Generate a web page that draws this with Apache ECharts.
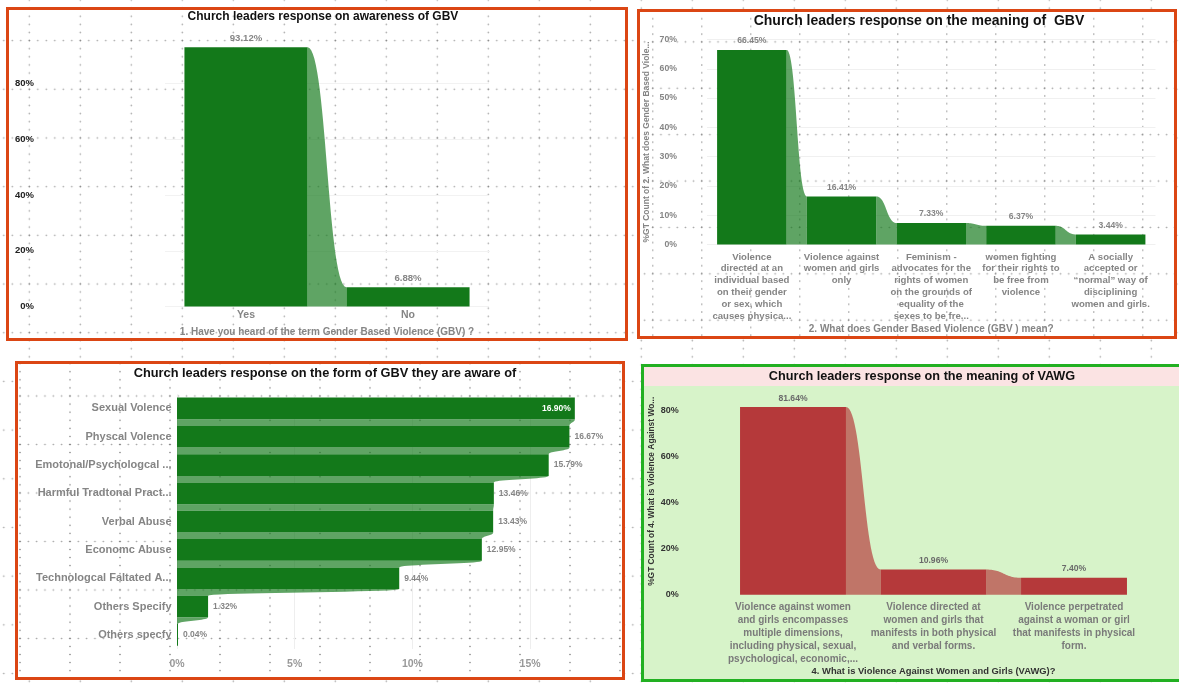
<!DOCTYPE html>
<html>
<head>
<meta charset="utf-8">
<script src="https://cdn.jsdelivr.net/npm/echarts@6/dist/echarts.min.js"></script>
<style>
html,body{margin:0;padding:0;width:1179px;height:684px;overflow:hidden;background:#fff;}
#bg{position:absolute;left:0;top:0;width:1179px;height:684px;
  background-image:
    radial-gradient(circle at center, rgba(90,90,90,0.55) 0.6px, rgba(90,90,90,0) 1.1px),
    radial-gradient(circle at center, rgba(90,90,90,0.55) 0.6px, rgba(90,90,90,0) 1.1px);
  background-size:8.5px 48.7px, 51px 8.12px;
  background-position:25.05px 16.25px, 3.8px 36.54px;}
.panel{position:absolute;box-sizing:border-box;background-origin:border-box;}
#p1{left:6px;top:7px;width:622px;height:334px;border:3px solid #db4614;}
#p2{left:637px;top:9px;width:540px;height:330px;border:3px solid #db4614;background-color:#fff;
  background-image:
    radial-gradient(circle at center, rgba(90,90,90,0.55) 0.6px, rgba(90,90,90,0) 1.1px),
    radial-gradient(circle at center, rgba(90,90,90,0.55) 0.6px, rgba(90,90,90,0) 1.1px);
  background-size:8.17px 46.4px, 49px 7.73px;
  background-position:11.72px 9.7px, -8.7px 29.03px;}
#p3{left:15px;top:361px;width:610px;height:319px;border:3px solid #db4614;background-color:#fff;
  background-image:
    radial-gradient(circle at center, rgba(90,90,90,0.55) 0.6px, rgba(90,90,90,0) 1.1px),
    radial-gradient(circle at center, rgba(90,90,90,0.55) 0.6px, rgba(90,90,90,0) 1.1px);
  background-size:8.33px 48.5px, 50px 8.08px;
  background-position:0.83px 10.75px, -20px 30.96px;}
#p4{left:641px;top:364px;width:545px;height:318px;border:3px solid #22b022;background:#d7f3c9;}
#p4bar{position:absolute;left:0;top:0;right:0;height:19px;background:#fbe3e3;}
#chart{position:absolute;left:0;top:0;width:1179px;height:684px;z-index:5;}
</style>
</head>
<body>
<div id="bg"></div>
<div class="panel" id="p1"></div>
<div class="panel" id="p2"></div>
<div class="panel" id="p3"></div>
<div class="panel" id="p4"><div id="p4bar"></div></div>
<div id="chart"></div>
<script>
// ---------- DATA ----------
const q1Categories = ['Yes', 'No'];
const q1Values = [93.12, 6.88];

const q2Categories = [
  'Violence\ndirected at an\nindividual based\non their gender\nor sex, which\ncauses physica...',
  'Violence against\nwomen and girls\nonly',
  'Feminism -\nadvocates for the\nrights of women\non the grounds of\nequality of the\nsexes to be fre...',
  'women fighting\nfor their rights to\nbe free from\nviolence',
  'A socially\naccepted or\n\u201cnormal\u201d way of\ndisciplining\nwomen and girls.'
];
const q2Values = [66.45, 16.41, 7.33, 6.37, 3.44];

const q3Categories = [
  'Sexual Volence', 'Physcal Volence', 'Emotonal/Psychologcal ...', 'Harmful Tradtonal Pract...',
  'Verbal Abuse', 'Economc Abuse', 'Technologcal Faltated A...', 'Others Specify', 'Others specfy'
];
const q3Values = [16.90, 16.67, 15.79, 13.46, 13.43, 12.95, 9.44, 1.32, 0.04];

const q4Categories = [
  'Violence against women\nand girls encompasses\nmultiple dimensions,\nincluding physical, sexual,\npsychological, economic,...',
  'Violence directed at\nwomen and girls that\nmanifests in both physical\nand verbal forms.',
  'Violence perpetrated\nagainst a woman or girl\nthat manifests in physical\nform.'
];
const q4Values = [81.64, 10.96, 7.40];

const titles = [
  'Church leaders response on awareness of GBV',
  'Church leaders response on the meaning of  GBV',
  'Church leaders response on the form of GBV they are aware of',
  'Church leaders response on the meaning of VAWG'
];
const xAxisTitles = [
  '1. Have you heard of the term Gender Based Violence (GBV) ?',
  '2. What does Gender Based Violence (GBV ) mean?',
  '',
  '4. What is Violence Against Women and Girls (VAWG)?'
];
const yAxisTitles = [
  '',
  '%GT Count of 2. What does Gender Based Viole...',
  '',
  '%GT Count of 4. What is Violence Against Wo...'
];

// ---------- STYLE ----------
const FONT = '"Liberation Sans", Arial, Helvetica, sans-serif';
const GREEN = '#13791a';
const RED = '#b5393a';
const GREY = '#858585';

function vData(values) {
  return values.map((v, i) => [i, v, i < values.length - 1 ? values[i + 1] : NaN]);
}
function hData(values) {
  return values.map((v, i) => [v, i, i < values.length - 1 ? values[i + 1] : NaN]);
}
function bez(p0, p1, p2, p3, t) {
  const m = 1 - t;
  return m * m * m * p0 + 3 * m * m * t * p1 + 3 * m * t * t * p2 + t * t * t * p3;
}

function makeVRibbon(barRatio, color, labelColor, labelFont, labelGap) {
  return function (params, api) {
    const i = api.value(0), v = api.value(1), vn = api.value(2);
    const band = api.size([1, 0])[0];
    const bw = band * barRatio;
    const top = api.coord([i, v]);
    const base = api.coord([i, 0]);
    const children = [];
    if (!isNaN(vn)) {
      const nt = api.coord([i + 1, vn]);
      const x0 = top[0] + bw / 2, x1 = nt[0] - bw / 2, y0 = top[1], y1 = nt[1];
      const xm = (x0 + x1) / 2;
      const pts = [];
      for (let k = 0; k <= 30; k++) {
        const t = k / 30;
        pts.push([bez(x0, xm, xm, x1, t), bez(y0, y0, y1, y1, t)]);
      }
      pts.push([x1, base[1]]);
      pts.push([x0, base[1]]);
      children.push({ type: 'polygon', shape: { points: pts }, style: { fill: color, opacity: 0.68 } });
    }
    children.push({ type: 'rect', shape: { x: top[0] - bw / 2, y: top[1], width: bw, height: base[1] - top[1] }, style: { fill: color } });
    children.push({ type: 'text', style: { text: v.toFixed(2) + '%', x: top[0], y: top[1] - labelGap, fill: labelColor, font: labelFont, align: 'center', verticalAlign: 'bottom' } });
    return { type: 'group', children: children };
  };
}

function makeHRibbon(barRatio, color, maxV) {
  return function (params, api) {
    const v = api.value(0), i = api.value(1), vn = api.value(2);
    const band = api.size([0, 1])[1];
    const bh = band * barRatio;
    const end = api.coord([v, i]);
    const base = api.coord([0, i]);
    const children = [];
    if (!isNaN(vn)) {
      const ne = api.coord([vn, i + 1]);
      const yT = end[1] + bh / 2, yB = ne[1] - bh / 2;
      const ym = (yT + yB) / 2;
      const pts = [[base[0], yT]];
      for (let k = 0; k <= 20; k++) {
        const t = k / 20;
        pts.push([bez(end[0], end[0], ne[0], ne[0], t), bez(yT, ym, ym, yB, t)]);
      }
      pts.push([base[0], yB]);
      children.push({ type: 'polygon', shape: { points: pts }, style: { fill: color, opacity: 0.68 } });
    }
    children.push({ type: 'rect', shape: { x: base[0], y: end[1] - bh / 2, width: Math.max(end[0] - base[0], 1), height: bh }, style: { fill: color } });
    const inside = v === maxV;
    children.push({ type: 'text', style: {
      text: v.toFixed(2) + '%',
      x: inside ? end[0] - 4 : end[0] + 5, y: end[1],
      fill: inside ? '#ffffff' : GREY,
      font: 'bold 8.5px ' + FONT,
      align: inside ? 'right' : 'left', verticalAlign: 'middle' } });
    return { type: 'group', children: children };
  };
}

const pctFmt = v => v + '%';

const option = {
  animation: false,
  backgroundColor: 'transparent',
  title: [
    { text: titles[0], left: 323, top: 11, textAlign: 'center', padding: 0, textStyle: { fontSize: 12, fontWeight: 'bold', color: '#111', fontFamily: FONT } },
    { text: titles[1], left: 919, top: 14, textAlign: 'center', padding: 0, textStyle: { fontSize: 14, fontWeight: 'bold', color: '#111', fontFamily: FONT } },
    { text: titles[2], left: 325, top: 367, textAlign: 'center', padding: 0, textStyle: { fontSize: 12.8, fontWeight: 'bold', color: '#111', fontFamily: FONT } },
    { text: titles[3], left: 922, top: 369.5, textAlign: 'center', padding: 0, textStyle: { fontSize: 12.7, fontWeight: 'bold', color: '#111', fontFamily: FONT } }
  ],
  grid: [
    { left: 165, top: 28, width: 324, height: 278.5 },
    { left: 707, top: 39.5, width: 448.5, height: 205 },
    { left: 177, top: 394.3, width: 435.5, height: 254.7 },
    { left: 722.75, top: 387.8, width: 421.5, height: 207 }
  ],
  xAxis: [
    { gridIndex: 0, type: 'category', data: q1Categories,
      axisLine: { show: false }, axisTick: { show: false },
      axisLabel: { margin: 3, fontSize: 10.5, fontWeight: 'bold', color: GREY, fontFamily: FONT },
      name: xAxisTitles[0], nameLocation: 'middle', nameGap: 20.5,
      nameTextStyle: { fontSize: 10, fontWeight: 'bold', color: GREY, fontFamily: FONT } },
    { gridIndex: 1, type: 'category', data: q2Categories,
      axisLine: { show: false }, axisTick: { show: false },
      axisLabel: { interval: 0, margin: 6.6, fontSize: 9.6, lineHeight: 11.8, fontWeight: 'bold', color: GREY, fontFamily: FONT, align: 'center' },
      name: xAxisTitles[1], nameLocation: 'middle', nameGap: 79.5,
      nameTextStyle: { fontSize: 10, fontWeight: 'bold', color: GREY, fontFamily: FONT } },
    { gridIndex: 2, type: 'value', min: 0, max: 18.5, interval: 5,
      axisLine: { show: false }, axisTick: { show: false },
      splitLine: { show: true, showMaxLine: false, lineStyle: { color: '#eeeeee' } },
      axisLabel: { showMaxLabel: false, margin: 10, fontSize: 10.5, fontWeight: 'bold', color: '#999', fontFamily: FONT,
        formatter: v => (v % 5 === 0 ? v + '%' : '') } },
    { gridIndex: 3, type: 'category', data: q4Categories,
      axisLine: { show: false }, axisTick: { show: false },
      axisLabel: { interval: 0, margin: 5.6, fontSize: 10, lineHeight: 13, fontWeight: 'bold', color: '#7a7a7a', fontFamily: FONT, align: 'center' },
      name: xAxisTitles[3], nameLocation: 'middle', nameGap: 71.7,
      nameTextStyle: { fontSize: 9.4, fontWeight: 'bold', color: '#333', fontFamily: FONT } }
  ],
  yAxis: [
    { gridIndex: 0, type: 'value', min: 0, max: 100, interval: 20,
      axisLine: { show: false }, axisTick: { show: false },
      splitLine: { show: true, showMaxLine: false, lineStyle: { color: '#f2f2f2' } },
      axisLabel: { showMaxLabel: false, margin: 131, fontSize: 9.5, fontWeight: 'bold', color: '#222', fontFamily: FONT, formatter: pctFmt } },
    { gridIndex: 1, type: 'value', min: 0, max: 70, interval: 10,
      axisLine: { show: false }, axisTick: { show: false },
      splitLine: { show: true, lineStyle: { color: '#f0f0f0' } },
      axisLabel: { margin: 30, fontSize: 8.7, fontWeight: 'bold', color: GREY, fontFamily: FONT, formatter: pctFmt },
      name: yAxisTitles[1], nameLocation: 'middle', nameGap: 55.7, nameRotate: 90,
      nameTextStyle: { fontSize: 8.5, fontWeight: 'bold', color: GREY, fontFamily: FONT } },
    { gridIndex: 2, type: 'category', data: q3Categories, inverse: true,
      axisLine: { show: false }, axisTick: { show: false },
      axisLabel: { interval: 0, margin: 5.5, fontSize: 11, fontWeight: 'bold', color: GREY, fontFamily: FONT } },
    { gridIndex: 3, type: 'value', min: 0, max: 90, interval: 20,
      axisLine: { show: false }, axisTick: { show: false },
      splitLine: { show: false },
      axisLabel: { showMaxLabel: false, margin: 44, fontSize: 9, fontWeight: 'bold', color: '#333', fontFamily: FONT,
        formatter: v => (v % 20 === 0 ? v + '%' : '') },
      name: yAxisTitles[3], nameLocation: 'middle', nameGap: 67, nameRotate: 90,
      nameTextStyle: { fontSize: 8.4, fontWeight: 'bold', color: '#333', fontFamily: FONT } }
  ],
  series: [
    { type: 'custom', xAxisIndex: 0, yAxisIndex: 0, data: vData(q1Values), encode: { x: 0, y: 1 },
      renderItem: makeVRibbon(0.76, GREEN, GREY, 'bold 9.6px ' + FONT, 3.5), clip: false },
    { type: 'custom', xAxisIndex: 1, yAxisIndex: 1, data: vData(q2Values), encode: { x: 0, y: 1 },
      renderItem: makeVRibbon(0.775, GREEN, GREY, 'bold 8.6px ' + FONT, 4.5), clip: false },
    { type: 'custom', xAxisIndex: 2, yAxisIndex: 2, data: hData(q3Values), encode: { x: 0, y: 1 },
      renderItem: makeHRibbon(0.767, GREEN, Math.max.apply(null, q3Values)), clip: false },
    { type: 'custom', xAxisIndex: 3, yAxisIndex: 3, data: vData(q4Values), encode: { x: 0, y: 1 },
      renderItem: makeVRibbon(0.754, RED, '#6a6a6a', 'bold 8.6px ' + FONT, 4.4), clip: false }
  ]
};

const chart = echarts.init(document.getElementById('chart'), null, { renderer: 'canvas' });
chart.setOption(option);
</script>
</body>
</html>
